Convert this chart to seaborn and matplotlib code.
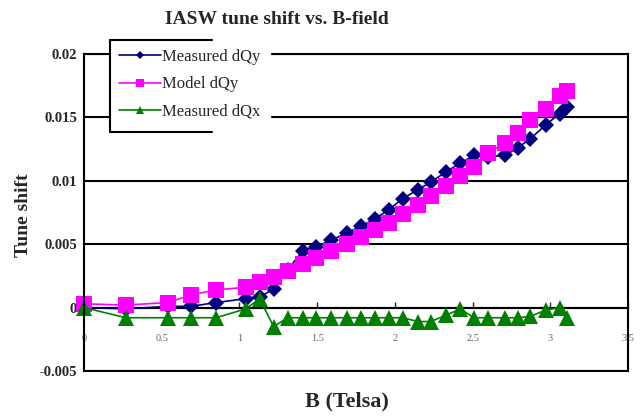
import matplotlib
matplotlib.use("Agg")
import matplotlib.pyplot as plt
from matplotlib.lines import Line2D
import seaborn as sns

# field values (T), shared by all three series
b_field = [0.0, 0.27, 0.54, 0.69, 0.85, 1.04, 1.13, 1.22, 1.31, 1.41,
           1.49, 1.59, 1.69, 1.78, 1.87, 1.96, 2.05, 2.15, 2.23, 2.33,
           2.42, 2.51, 2.60, 2.71, 2.79, 2.87, 2.97, 3.06, 3.11]

measured_dqy = [0.0000, -0.0001, 0.0001, 0.0001, 0.0004, 0.0007, 0.0008, 0.0015, 0.0030, 0.0045,
                0.0048, 0.0053, 0.0059, 0.0064, 0.0070, 0.0077, 0.0086, 0.0093, 0.0099, 0.0107,
                0.0114, 0.0120, 0.0119, 0.0120, 0.0126, 0.0133, 0.0144, 0.0153, 0.0158]

model_dqy = [0.0003, 0.0002, 0.0004, 0.0010, 0.0014, 0.0016, 0.0020, 0.0024, 0.0029, 0.0034,
             0.0039, 0.0045, 0.0050, 0.0056, 0.0061, 0.0067, 0.0074, 0.0081, 0.0088, 0.0096,
             0.0104, 0.0111, 0.0122, 0.0130, 0.0138, 0.0148, 0.0157, 0.0167, 0.0171]

measured_dqx = [0.0000, -0.0008, -0.0008, -0.0008, -0.0008, -0.0001, 0.0007, -0.0015, -0.0008, -0.0008,
                -0.0008, -0.0008, -0.0008, -0.0008, -0.0008, -0.0008, -0.0008, -0.0011, -0.0011, -0.0006,
                -0.0001, -0.0008, -0.0008, -0.0008, -0.0008, -0.0007, -0.0002, 0.0000, -0.0008]

x_ticks = [0, 0.5, 1, 1.5, 2, 2.5, 3, 3.5]
x_tick_labels = ["0", "0.5", "1", "1.5", "2", "2.5", "3", "3.5"]
y_ticks = [-0.005, 0, 0.005, 0.01, 0.015, 0.02]
y_tick_labels = ["-0.005", "0", "0.005", "0.01", "0.015", "0.02"]

sns.set_style("white")
plt.rcParams["font.family"] = ["Liberation Serif", "DejaVu Serif"]

fig = plt.figure(figsize=(6.41, 4.2), dpi=100)
ax = fig.add_axes([84 / 641, 1 - 371 / 420, (628 - 84) / 641, (371 - 54) / 420])

sns.lineplot(x=b_field, y=measured_dqy, ax=ax, color="#000080", marker="D",
             markersize=8, markeredgewidth=0, linewidth=1.2, clip_on=False,
             label="Measured dQy")
sns.lineplot(x=b_field, y=model_dqy, ax=ax, color="#FF00FF", marker="s",
             markersize=12, markeredgewidth=0, linewidth=1.2, clip_on=False,
             label="Model dQy")
sns.lineplot(x=b_field, y=measured_dqx, ax=ax, color="#008000", marker="^",
             markersize=12, markeredgewidth=0, linewidth=1.2, clip_on=False,
             label="Measured dQx")

ax.set_xlim(0, 3.5)
ax.set_ylim(-0.005, 0.02)
ax.set_yticks(y_ticks)
ax.set_yticklabels(y_tick_labels, fontweight="bold")
ax.tick_params(axis="y", length=0, pad=5, labelsize=10.5)
ax.tick_params(axis="x", bottom=False, labelbottom=False)
ax.yaxis.grid(True, color="black", linewidth=1.5)
ax.set_axisbelow(True)
for sp in ax.spines.values():
    sp.set_color("black")
    sp.set_linewidth(1.5)
ax.set_xlabel("")
ax.set_ylabel("")

# x axis runs along y = 0
sec = ax.secondary_xaxis(0.2)
sec.set_xticks(x_ticks)
sec.set_xticklabels(x_tick_labels)
sec.tick_params(direction="in", length=4, width=1, labelsize=7.5,
                labelcolor="#666666", pad=19)
sec.spines["bottom"].set_linewidth(1.5)

leg = ax.legend(loc="upper left", bbox_to_anchor=(110 / 641, 1 - 40 / 420),
                bbox_transform=fig.transFigure, borderaxespad=0, fontsize=12,
                markerscale=0.45, handlelength=2.5, handletextpad=0.1,
                labelspacing=0.68, borderpad=0.55, fancybox=False,
                framealpha=1, facecolor="white", edgecolor="white")
for line in [((110, 110), (40, 132)), ((110, 212), (40, 40)), ((110, 212), (132, 132))]:
    xs = [v / 641 for v in line[0]]
    ys = [1 - v / 420 for v in line[1]]
    fig.add_artist(Line2D(xs, ys, color="black", linewidth=1.5))

fig.text(277 / 641, 1 - 20 / 420, "IASW tune shift vs. B-field", ha="center",
         va="center", fontsize=14, fontweight="bold")
fig.text(347 / 641, 1 - 401 / 420, "B (Telsa)", ha="center", va="center",
         fontsize=16, fontweight="bold")
fig.text(24 / 641, 1 - 215 / 420, "Tune shift", ha="center", va="center",
         rotation=90, fontsize=14, fontweight="bold")

fig.savefig("out.png", dpi=100)
